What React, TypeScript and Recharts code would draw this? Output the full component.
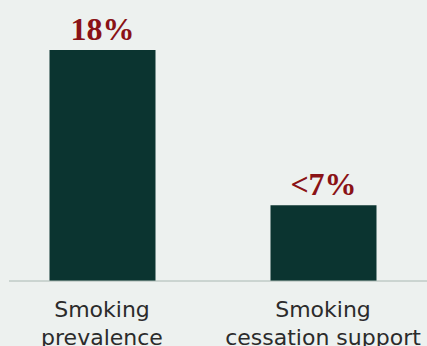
import React from "react";
import { BarChart, Bar, XAxis, YAxis, LabelList } from "recharts";

const categories = ["Smoking prevalence", "Smoking cessation support"];
const tickLines = [
  ["Smoking", "prevalence"],
  ["Smoking", "cessation support"],
];
const values = [18, 5.9];
const valueLabels = ["18%", "<7%"];

const data = categories.map((name, i) => ({ idx: i, name, value: values[i] }));

const BG = "#edf1ef";
const BAR = "#0b3430";
const RED = "#8a1216";

const Tick = (props: any) => {
  const { x, y, payload } = props;
  const lines = tickLines[payload.value] || [];
  return (
    <g>
      {lines.map((l, i) => (
        <text
          key={i}
          x={x}
          y={y + 36 + i * 28}
          textAnchor="middle"
          fontFamily="'DejaVu Sans', sans-serif"
          fontSize={22}
          fill="#2b2b2b"
        >
          {l}
        </text>
      ))}
    </g>
  );
};

const ValueLabel = (props: any) => {
  const { x, y, width, index } = props;
  return (
    <text
      x={x + width / 2}
      y={y - 10}
      textAnchor="middle"
      fontFamily="'Liberation Serif', serif"
      fontWeight="bold"
      fontSize={32}
      fill={RED}
    >
      {valueLabels[index]}
    </text>
  );
};

export default function App() {
  return (
    <div
      style={{
        position: "absolute",
        left: 0,
        top: 0,
        width: 427,
        height: 346,
        background: BG,
        overflow: "hidden",
      }}
    >
      <BarChart
        width={427}
        height={346}
        data={data}
        margin={{ top: 50, right: 0, bottom: 0, left: 9 }}
      >
        <XAxis
          dataKey="idx"
          type="number"
          domain={[-0.4208, 1.4706]}
          allowDataOverflow
          ticks={[0, 1]}
          tickLine={false}
          tickSize={0}
          tickMargin={0}
          height={65}
          axisLine={{ stroke: "#a9b8b2", strokeWidth: 1 }}
          tick={<Tick />}
          interval={0}
        />
        <YAxis hide domain={[0, 18]} />
        <Bar dataKey="value" fill={BAR} barSize={106} isAnimationActive={false}>
          <LabelList dataKey="value" content={<ValueLabel />} />
        </Bar>
      </BarChart>
    </div>
  );
}
